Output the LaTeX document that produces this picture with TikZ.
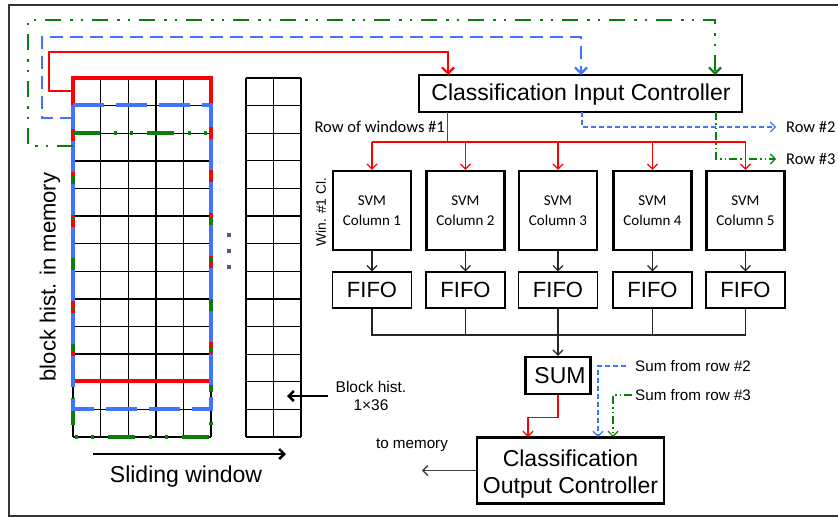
\documentclass[tikz,border=0pt]{standalone}
\usepackage{fontspec}
\setmainfont{Liberation Sans}
\newfontfamily\calib{Carlito}
\usetikzlibrary{arrows.meta}
\definecolor{cred}{RGB}{255,0,0}
\definecolor{cblue}{RGB}{64,115,255}
\definecolor{cgreen}{RGB}{10,128,10}
\definecolor{cdot}{RGB}{95,85,135}
\tikzset{
  gridl/.style={line width=1.4pt, black},
  gridt/.style={line width=1.2pt, black},
  winl/.style={line width=3.2pt},
  conn/.style={line width=1.2pt},
  tip/.style={-{Straight Barb[length=5pt,width=10pt]}},
  bigtip/.style={-{Straight Barb[length=6pt,width=12pt]}},
  bdash/.style={dash pattern=on 5pt off 3pt},
  gdash/.style={dash pattern=on 8pt off 3pt on 1.5pt off 3pt on 1.5pt off 3pt},
  svmbox/.style={draw, line width=2.4pt, minimum width=78pt, minimum height=79pt, inner sep=0pt, align=center, font=\calib\fontsize{15}{20}\selectfont},
  fifobox/.style={draw, line width=1.2pt, minimum width=79pt, minimum height=36pt, inner sep=0pt, font=\fontsize{22}{24}\selectfont},
  ctrlbox/.style={draw, line width=2.4pt, inner sep=0pt, align=center, font=\fontsize{23}{27}\selectfont},
  ctrltext/.style={inner sep=0pt, align=center, font=\fontsize{23}{27}\selectfont},
  lab/.style={inner sep=0pt, font=\fontsize{15.2}{18}\selectfont},
  rowlab/.style={inner sep=0pt, font=\calib\fontsize{16.5}{19}\selectfont},
}
\begin{document}
\begin{tikzpicture}[x=1pt,y=1pt]
\useasboundingbox (0,0) rectangle (838,-517);
% frame
\draw[line width=1.5pt, black!80] (838,-5) -- (9,-5) -- (9,-516) -- (838,-516);

% left grid
\foreach \x in {73,100.6,128.2,155.8,183.4,211}
  \draw[gridl] (\x,-78) -- (\x,-437);
\foreach \i in {0,...,13}
  \draw[gridl] (73,-78-27.615*\i) -- (211,-78-27.615*\i);
% right grid
\foreach \x in {246,273.5,301}
  \draw[gridt] (\x,-78) -- (\x,-437);
\foreach \i in {0,...,13}
  \draw[gridt] (246,-78-27.615*\i) -- (301,-78-27.615*\i);

% windows
\draw[cred, winl] (73,-78) rectangle (211,-381);
\draw[cgreen, winl, dash pattern=on 27pt off 14pt on 3pt off 13pt on 3pt off 14pt]
  (73,-133) -- (211,-133) -- (211,-437) -- (73,-437) -- cycle;
\draw[cblue, winl, dash pattern=on 31pt off 12pt]
  (73,-105) -- (211,-105) -- (211,-409) -- (73,-409) -- cycle;

% dots
\foreach \y in {235,251,267}
  \fill[cdot] (227.3,-\y+1.7) rectangle ++(3.5,-3.5);

% nodes
\node[ctrlbox, minimum width=323pt, minimum height=37pt] (cic) at (580.5,-93.5) {};
\node[ctrltext] (cicT) at (581,-95) {Classification Input Controller};
\foreach \i/\x in {1/372,2/465.5,3/558,4/652.5,5/745.5}{
  \node[svmbox] (v\i) at (\x,-210.5) {SVM\\Column \i};
  \node[fifobox] (f\i) at (\x,-290) {FIFO};
}
\node[ctrlbox, minimum width=65pt, minimum height=37pt] (s) at (558,-375.5) {\hspace{4pt}SUM};
\node[ctrlbox, minimum width=187pt, minimum height=66pt] (coc) at (570.5,-470.5) {};
\node[ctrltext] (cocT) at (570.5,-474) {Classification\\Output Controller};

% labels
\node[rotate=90, inner sep=0pt, font=\fontsize{22}{26}\selectfont] (bhm) at (50,-277) {block hist. in memory};
\node[inner sep=0pt, font=\fontsize{23}{27}\selectfont] (sw) at (186,-477) {Sliding window};
\node[rotate=90, inner sep=0pt, font=\fontsize{13.8}{16}\selectfont] (win) at (321,-212) {Win. \#1 Cl.};
\node[lab, align=center, font=\fontsize{15.5}{18}\selectfont] (bh) at (371,-396) {Block hist.\\1×36};
\node[lab] (tm) at (412,-445) {to memory};
\node[rowlab, anchor=east] (rw1) at (445,-127) {Row of windows \#1};
\node[rowlab, anchor=west] (r2t) at (786,-127) {Row \#2};
\node[rowlab, anchor=west] (r3t) at (786,-159) {Row \#3};
\node[lab, anchor=west] (sr2) at (635,-366) {Sum from row \#2};
\node[lab, anchor=west] (sr3) at (635,-395) {Sum from row \#3};

% top feedback connectors
\coordinate (rsrc) at (73,-91);  \coordinate (rin) at (448,-75);
\coordinate (bsrc) at (73,-118); \coordinate (bin) at (581,-75);
\coordinate (gsrc) at (73,-146); \coordinate (gin) at (715,-75);
\draw[cred, line width=2.2pt, bigtip] (rsrc) -- (49,-91) -- (49,-52) -| (rin);
\draw[cblue, line width=2.2pt, dash pattern=on 13pt off 7pt, bigtip] (bsrc) -- (42,-118) -- (42,-37) -| (bin);
\draw[cgreen, line width=2.2pt, dash pattern=on 16pt off 9pt on 2.5pt off 8pt on 2.5pt off 9pt, bigtip] (gsrc) -- (28,-146) -- (28,-20) -| (gin);

% input controller outputs
\coordinate (rout) at (447.5,-112);
\coordinate (rbus) at (447.5,-142);
\draw[cred, conn] (rout) -- (rbus);
\draw[cred, conn] (v1.north |- rbus) -- (v5.north |- rbus);
\foreach \i in {1,...,5}
  \draw[cred, conn, tip] (v\i.north |- rbus) -- (v\i.north);
\coordinate (bout) at (582,-112);
\coordinate (gout) at (716,-112);
\draw[cblue, conn, bdash, tip] (bout) |- ([xshift=-10pt]r2t.west);
\draw[cgreen, conn, gdash, tip] (gout) |- ([xshift=-10pt]r3t.west);

% SVM -> FIFO -> SUM
\coordinate (bus) at (558,-335);
\foreach \i in {1,...,5}
  \draw[conn, black!85, tip] (v\i.south) -- (f\i.north);
\draw[conn, black!85] (f1.south) -- (f1.south |- bus) -- (f5.south |- bus) -- (f5.south);
\draw[conn, black!85] (f2.south) -- (f2.south |- bus);
\draw[conn, black!85] (f4.south) -- (f4.south |- bus);
\draw[conn, black!85, tip] (f3.south) -- (s.north);

% SUM -> output controller
\coordinate (cr) at (528,-437);
\coordinate (cb) at (598,-437);
\coordinate (cg) at (613,-437);
\draw[cred, conn, tip] (s.south) -- ++(0,-22) -| (cr);
\draw[cblue, conn, bdash, tip] ([xshift=-9pt]sr2.west) -| (cb);
\draw[cgreen, conn, gdash, tip] ([xshift=-3pt]sr3.west) -| (cg);

% to memory
\draw[line width=1.5pt, black!75, tip] (coc.west) -- ++(-54,0);

% block hist arrow and sliding window arrow
\coordinate (rg) at (287,-396);
\draw[line width=2.5pt, tip] ([xshift=-7pt]bh.west) -- (rg);
\coordinate (swa) at (93,-454);
\coordinate (swb) at (286,-454);
\draw[line width=2.5pt, tip] (swa) -- (swb);
\end{tikzpicture}
\end{document}
